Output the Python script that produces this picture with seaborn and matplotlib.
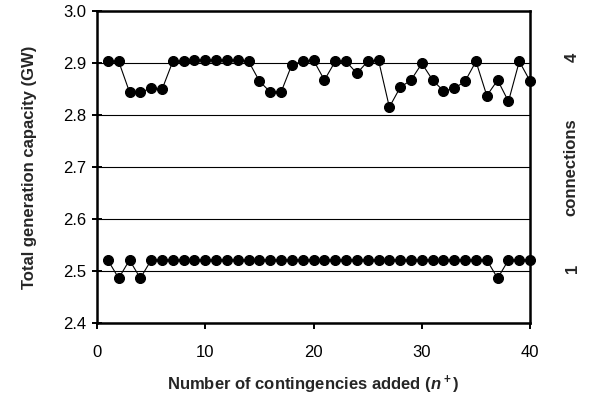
import numpy as np
import pandas as pd
import matplotlib
matplotlib.use("Agg")
import matplotlib.pyplot as plt
import matplotlib.transforms as mtransforms
import seaborn as sns

# --------------------------
# Data
# --------------------------
n_added = list(range(1, 41))

cap_4_conn = [2.903, 2.903, 2.844, 2.844, 2.851, 2.849, 2.903, 2.903, 2.905, 2.905,
              2.905, 2.905, 2.905, 2.903, 2.865, 2.844, 2.844, 2.897, 2.903, 2.905,
              2.867, 2.903, 2.903, 2.880, 2.903, 2.905, 2.815, 2.853, 2.867, 2.899,
              2.867, 2.846, 2.851, 2.865, 2.903, 2.837, 2.867, 2.826, 2.903, 2.865]

cap_1_conn = [2.521, 2.486, 2.521, 2.486, 2.521, 2.521, 2.521, 2.521, 2.521, 2.521,
              2.521, 2.521, 2.521, 2.521, 2.521, 2.521, 2.521, 2.521, 2.521, 2.521,
              2.521, 2.521, 2.521, 2.521, 2.521, 2.521, 2.521, 2.521, 2.521, 2.521,
              2.521, 2.521, 2.521, 2.521, 2.521, 2.521, 2.486, 2.521, 2.521, 2.521]

conn_labels = ["4", "1"]
conn_label_pos = [2.91, 2.505]

df = pd.DataFrame({
    "n": n_added * 2,
    "cap": cap_4_conn + cap_1_conn,
    "conn": ["4"] * 40 + ["1"] * 40,
})

# --------------------------
# Plot
# --------------------------
sns.set_style("white")
plt.rcParams["font.family"] = ["Liberation Sans", "DejaVu Sans"]
plt.rcParams["mathtext.fontset"] = "custom"
plt.rcParams["mathtext.it"] = "Liberation Sans:italic:bold"
plt.rcParams["mathtext.rm"] = "Liberation Sans:bold"

fig = plt.figure(figsize=(5.99, 4.05), dpi=100)
ax = fig.add_axes([0.162, 0.2025, 0.723, 0.7705])

for c in ["4", "1"]:
    sub = df[df["conn"] == c]
    sns.lineplot(data=sub, x="n", y="cap", ax=ax, color="black", linewidth=0.8,
                 marker="o", markersize=7.2, markeredgecolor="black",
                 markerfacecolor="black", clip_on=False, zorder=3)

ax.set_xlim(0, 40)
ax.set_ylim(2.4, 3.0)
ax.set_xticks([0, 10, 20, 30, 40])
yt = np.arange(2.4, 3.01, 0.1)
ax.set_yticks(yt)
ax.set_yticklabels([f"{v:.1f}" for v in yt])
ax.yaxis.grid(True, color="black", linewidth=0.8)
ax.set_axisbelow(True)
ax.tick_params(axis="y", direction="inout", length=7, width=1.4, pad=4,
               labelsize=12, color="black", labelcolor="black", left=True)
ax.tick_params(axis="x", direction="out", length=4.5, width=1.4, pad=11,
               labelsize=12, color="black", labelcolor="black", bottom=True)
for s in ax.spines.values():
    s.set_color("black")
    s.set_linewidth(1.8)

ax.set_xlabel(r"Number of contingencies added ($\mathit{n}^+$)",
              fontsize=12, fontweight="bold", labelpad=10)
ax.set_ylabel("Total generation capacity (GW)", fontsize=12,
              fontweight="bold", labelpad=19)

# right-hand connection labels
trans = mtransforms.blended_transform_factory(ax.transAxes, ax.transData)
for lab, pos in zip(conn_labels, conn_label_pos):
    ax.text(1.098, pos, lab, transform=trans, rotation=90, ha="center",
            va="center", fontsize=12, fontweight="bold")
ax.text(1.095, 0.5, "connections", transform=ax.transAxes, rotation=90,
        ha="center", va="center", fontsize=12, fontweight="bold")

fig.savefig("out.png", dpi=100)
